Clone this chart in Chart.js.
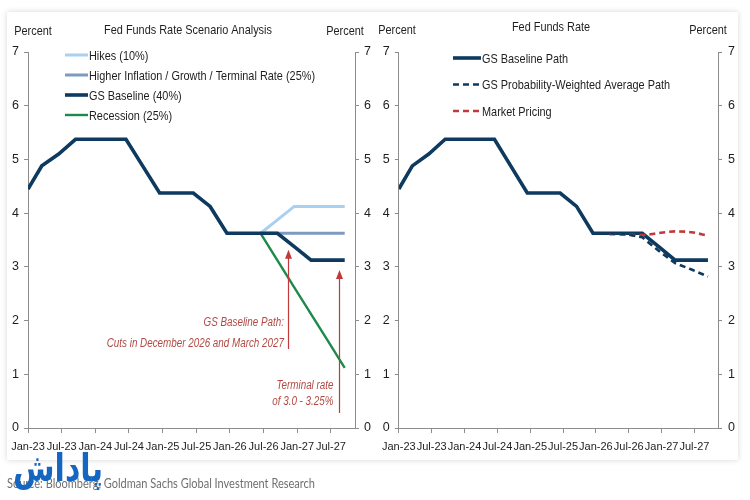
<!DOCTYPE html>
<html>
<head>
<meta charset="utf-8">
<script src="https://cdn.jsdelivr.net/npm/chart.js@4.4.1/dist/chart.umd.min.js"></script>
<style>
  html,body{margin:0;padding:0;background:#fff;}
  body{width:750px;height:500px;position:relative;overflow:hidden;}
  .panel{position:absolute;left:7px;top:12px;width:731px;height:448px;box-shadow:0 0 6px rgba(0,0,0,0.16);background:#fff;}
  .wrap{position:absolute;top:0;width:375px;height:500px;}
  #source{position:absolute;left:7px;top:474px;font-family:Lato,sans-serif;font-size:14px;color:#707070;white-space:nowrap;transform-origin:0 0;}
  #logo{position:absolute;left:13px;top:448px;font-family:'DejaVu Sans',sans-serif;font-weight:bold;font-size:38px;line-height:40px;color:#1566c0;direction:rtl;transform-origin:0 0;}
</style>
</head>
<body>
<div class="panel"></div>
<div class="wrap" style="left:0"><canvas id="c1"></canvas></div>
<div class="wrap" style="left:375px"><canvas id="c2"></canvas></div>
<div id="source">Source: Bloomberg, Goldman Sachs Global Investment Research</div>
<div id="logo">پاداش</div>
<script>
// ---------- DATA ----------
const dates = ['2023-01-01','2023-03-15','2023-06-15','2023-09-15','2023-12-15','2024-03-15','2024-06-15','2024-09-15','2024-12-15','2025-03-15','2025-06-15','2025-09-15','2025-12-15','2026-03-15','2026-06-15','2026-09-15','2026-12-15','2027-03-15','2027-06-15','2027-09-15'];
const gsBaseline   = [4.45,4.88,5.10,5.375,5.375,5.375,5.375,4.875,4.375,4.375,4.375,4.125,3.625,3.625,3.625,3.625,3.375,3.125,3.125,3.125];
const hikes        = [null,null,null,null,null,null,null,null,null,null,null,null,null,null,3.625,3.875,4.125,4.125,4.125,4.125];
const higherInfl   = [null,null,null,null,null,null,null,null,null,null,null,null,null,null,3.625,3.625,3.625,3.625,3.625,3.625];
const recession    = [null,null,null,null,null,null,null,null,null,null,null,null,null,null,3.625,3.12,2.62,2.12,1.62,1.12];
const probWeighted = [null,null,null,null,null,null,null,null,null,null,null,null,null,3.625,3.61,3.55,3.30,3.07,2.95,2.82];
const marketPricing= [null,null,null,null,null,null,null,null,null,null,null,null,null,3.61,3.60,3.59,3.63,3.66,3.645,3.58];
const tickDates  = ['2023-01-01','2023-07-01','2024-01-01','2024-07-01','2025-01-01','2025-07-01','2026-01-01','2026-07-01','2027-01-01','2027-07-01'];
const tickLabels = ['Jan-23','Jul-23','Jan-24','Jul-24','Jan-25','Jul-25','Jan-26','Jul-26','Jan-27','Jul-27'];
const axisEndDate = '2027-11-10';
const yTicks = [0,1,2,3,4,5,6,7];

// ---------- helpers ----------
function toMonths(d){const [y,m,dd]=d.split('-').map(Number);return (y-2023)*12+(m-1)+(dd-1)/30;}
function pts(vals){return dates.map((d,i)=>({x:toMonths(d),y:vals[i]}));}
const SANS = "'Liberation Sans',Arial,sans-serif";
const NAVY='#0d3a5e', LIGHT='#a9d0ef', STEEL='#7e9ac2', GREEN='#1e8a4a', RED='#c0393b', ANN='#b04a44';
const AX='#8c8c8c', TXT='#1e1e1e';
const SQ=0.82; // horizontal squeeze to imitate a narrow face

function makeScales(leftW,rightW,padL,padR){
  const tickVals = tickDates.map(toMonths);
  const yCommon = (pos,w,pad)=>({
    type:'linear',position:pos,min:0,max:7,
    afterBuildTicks:s=>{s.ticks=yTicks.map(v=>({value:v}));},
    afterFit:s=>{s.width=w;},
    grid:{drawOnChartArea:false,drawTicks:true,tickLength:4,color:AX},
    border:{color:AX,width:1},
    ticks:{padding:pad,color:TXT,font:{family:SANS,size:12.5}}
  });
  return {
    x:{type:'linear',min:0,max:toMonths(axisEndDate),
      afterBuildTicks:s=>{s.ticks=tickVals.map(v=>({value:v}));},
      afterFit:s=>{s.height=72;},
      grid:{drawOnChartArea:false,drawTicks:true,tickLength:5,color:AX},
      border:{color:AX,width:1},
      ticks:{autoSkip:false,maxRotation:0,padding:7,color:TXT,font:{family:SANS,size:11},
        callback:(v,i)=>tickLabels[i]}},
    yL:yCommon('left',leftW,padL),
    yR:yCommon('right',rightW,padR)
  };
}

function narrowText(ctx,text,x,y,font,color,align){
  ctx.save();
  ctx.font=font;ctx.fillStyle=color;ctx.textBaseline='middle';
  const w=ctx.measureText(text).width*SQ;
  let x0=x; if(align==='center')x0=x-w/2; else if(align==='right')x0=x-w;
  ctx.translate(x0,y);ctx.scale(SQ,1);ctx.textAlign='left';
  ctx.fillText(text,0,0);
  ctx.restore();
}

const textPlugin = {
  id:'texts',
  afterDraw(chart,args,opts){
    const ctx=chart.ctx;ctx.save();
    (opts.items||[]).forEach(t=>narrowText(ctx,t.text,t.x,t.y,t.font,TXT,t.align));
    const lg=opts.legend;
    if(lg){
      lg.order.forEach((di,k)=>{
        const ds=chart.data.datasets[di];
        const y=lg.y+k*lg.dy;
        ctx.beginPath();ctx.setLineDash(ds.borderDash||[]);
        ctx.strokeStyle=ds.borderColor;ctx.lineWidth=ds.borderWidth;
        ctx.moveTo(lg.x,y);ctx.lineTo(lg.x+lg.len,y);ctx.stroke();
        ctx.setLineDash([]);
        narrowText(ctx,ds.label,lg.x+lg.len+1,y+1,lg.font,TXT,'left');
      });
    }
    const xs=chart.scales.x, ys=chart.scales.yL;
    (opts.arrows||[]).forEach(a=>{
      const x=Math.round(xs.getPixelForValue(toMonths(a.date)))+0.5;
      const y0=ys.getPixelForValue(a.from), y1=ys.getPixelForValue(a.to);
      ctx.strokeStyle=RED;ctx.fillStyle=RED;ctx.lineWidth=1.2;
      ctx.beginPath();ctx.moveTo(x,y0);ctx.lineTo(x,y1+6);ctx.stroke();
      ctx.beginPath();ctx.moveTo(x,y1);ctx.lineTo(x-3.5,y1+9);ctx.lineTo(x+3.5,y1+9);ctx.closePath();ctx.fill();
    });
    (opts.notes||[]).forEach(n=>{
      const x=xs.getPixelForValue(toMonths(n.date)), y=ys.getPixelForValue(n.y);
      narrowText(ctx,n.text,x,y,"italic 12px "+SANS,ANN,'right');
    });
    ctx.restore();
  }
};

function lineDs(label,vals,color,width,extra){
  return Object.assign({label,data:pts(vals),borderColor:color,backgroundColor:color,borderWidth:width,
    pointRadius:0,tension:0,yAxisID:'yL',spanGaps:false,borderJoinStyle:'miter',borderCapStyle:'butt'},extra||{});
}
const TF='13.3px '+SANS;

// ---------- LEFT CHART ----------
new Chart(document.getElementById('c1'),{
  type:'line',
  data:{datasets:[
    lineDs('Hikes (10%)',hikes,LIGHT,3,{order:2}),
    lineDs('Higher Inflation / Growth / Terminal Rate (25%)',higherInfl,STEEL,3,{order:2}),
    lineDs('GS Baseline (40%)',gsBaseline,NAVY,3.6,{order:0}),
    lineDs('Recession (25%)',recession,GREEN,2.4,{order:1})
  ]},
  options:{
    responsive:true,maintainAspectRatio:false,animation:false,
    layout:{padding:{top:52,left:0,right:0,bottom:0}},
    scales:makeScales(28,20,5,5),
    plugins:{legend:{display:false},tooltip:{enabled:false},
      texts:{
        items:[
          {text:'Percent',x:33,y:31,font:TF,align:'center'},
          {text:'Fed Funds Rate Scenario Analysis',x:188,y:30,font:TF,align:'center'},
          {text:'Percent',x:345,y:31,font:TF,align:'center'}
        ],
        legend:{order:[0,1,2,3],x:65,y:55,dy:20,len:23,font:TF},
        arrows:[{date:'2026-11-10',from:1.47,to:3.32},{date:'2027-08-12',from:0.28,to:2.94}],
        notes:[
          {text:'GS Baseline Path:',date:'2026-10-20',y:1.97},
          {text:'Cuts in December 2026 and March 2027',date:'2026-10-20',y:1.57},
          {text:'Terminal rate',date:'2027-07-15',y:0.78},
          {text:'of 3.0 - 3.25%',date:'2027-07-15',y:0.49}
        ]
      }
    }
  },
  plugins:[textPlugin]
});

// ---------- RIGHT CHART ----------
new Chart(document.getElementById('c2'),{
  type:'line',
  data:{datasets:[
    lineDs('GS Baseline Path',gsBaseline,NAVY,3.6,{order:1}),
    lineDs('GS Probability-Weighted Average Path',probWeighted,NAVY,2.6,{order:0,borderDash:[6,4]}),
    lineDs('Market Pricing',marketPricing,RED,2.6,{order:0,borderDash:[6,4],tension:0.4,cubicInterpolationMode:'monotone'})
  ]},
  options:{
    responsive:true,maintainAspectRatio:false,animation:false,
    layout:{padding:{top:52,left:0,right:0,bottom:0}},
    scales:makeScales(16,32,5,6),
    plugins:{legend:{display:false},tooltip:{enabled:false},
      texts:{
        items:[
          {text:'Percent',x:22,y:30,font:TF,align:'center'},
          {text:'Fed Funds Rate',x:176,y:27,font:TF,align:'center'},
          {text:'Percent',x:333,y:30,font:TF,align:'center'}
        ],
        legend:{order:[0,1,2],x:78,y:58,dy:26.5,len:28,font:TF}
      }
    }
  },
  plugins:[textPlugin]
});

// fit the source line to its width in the reference
(function(){
  const s=document.getElementById('source');
  const w=s.getBoundingClientRect().width;
  s.style.transform='scaleX('+(308/w)+')';
  const l=document.getElementById('logo');
  const lw=l.getBoundingClientRect().width;
  l.style.transform='scaleX('+(90/lw)+')';
})();
</script>
</body>
</html>
